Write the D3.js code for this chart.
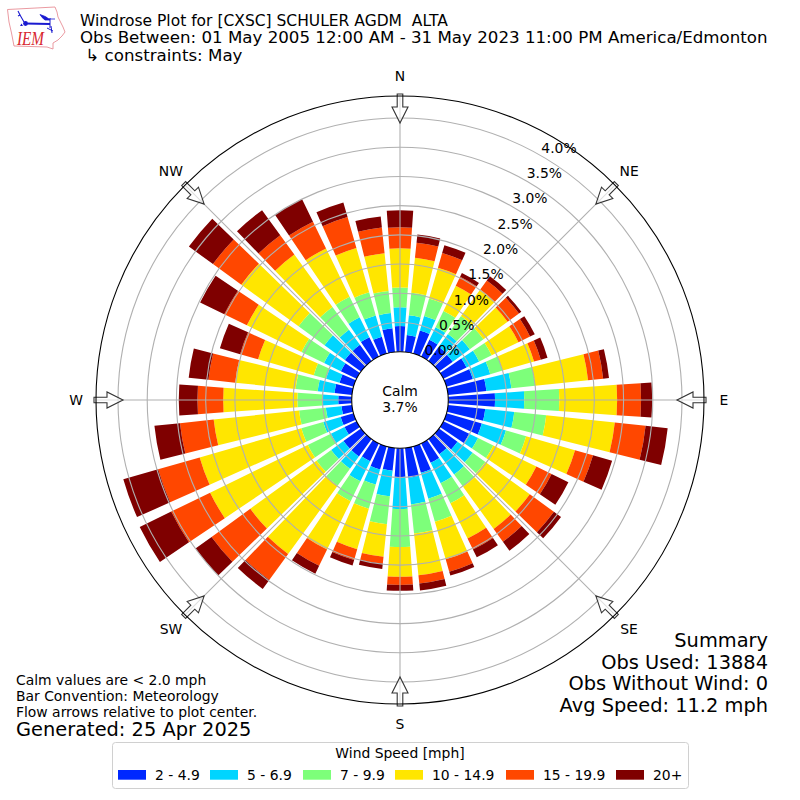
<!DOCTYPE html>
<html><head><meta charset="utf-8">
<script src="https://cdn.jsdelivr.net/npm/d3@7/dist/d3.min.js"></script>
<style>html,body{margin:0;background:#fff}svg{display:block;font-family:"DejaVu Sans",sans-serif}text{white-space:pre}</style>
</head><body><svg id="c" width="800" height="800"></svg>
<script>
const directions = d3.range(0, 360, 10);
const speedBins = ["2 - 4.9","5 - 6.9","7 - 9.9","10 - 14.9","15 - 19.9","20+"];
const binColors = ["#0028ff","#00d5ff","#7dff7a","#ffe600","#ff4700","#7f0000"];
const s2to5   = [.44,.29,.41,.32,.30,.29,.44,.47,.66,.80,.64,.63,.49,.39,.32,.37,.47,.51,.49,.39,.41,.34,.37,.37,.23,.23,.18,.23,.30,.25,.30,.34,.34,.37,.30,.41];
const s5to7   = [.32,.34,.26,.24,.27,.36,.24,.31,.43,.50,.50,.43,.17,.32,.43,.39,.46,.46,.55,.44,.27,.38,.26,.26,.26,.31,.27,.27,.29,.24,.32,.43,.32,.38,.38,.26];
const s7to10  = [.34,.39,.31,.31,.38,.29,.24,.22,.41,.60,.55,.36,.29,.27,.26,.38,.41,.50,.65,.48,.43,.38,.36,.31,.44,.39,.46,.43,.38,.22,.43,.55,.48,.39,.41,.38];
const s10to15 = [.67,.60,.55,.48,.56,.51,.51,.56,.91,.99,1.18,.87,.82,.94,.89,.67,.67,.72,.51,.56,.72,.92,1.44,1.40,1.86,1.81,1.47,1.27,1.04,.99,1.04,1.21,1.11,.92,.79,.65];
const s15to20 = [.36,.26,.26,.17,.19,.24,.22,.12,.26,.41,.53,.32,.29,.51,.27,.21,.22,.14,.14,.12,.19,.31,.55,.82,.74,.74,.58,.44,.46,.32,.43,.60,.41,.51,.55,.44];
const s20plus = [.29,.14,.14,.07,.09,.05,.09,.12,.10,.19,.38,.34,.32,.15,.19,.15,.07,.12,.10,.09,.10,.15,.19,.34,.60,.62,.44,.32,.34,.36,.46,.51,.53,.43,.26,.19];
const seriesValues = [s2to5,s5to7,s7to10,s10to15,s15to20,s20plus];
const radialTicks = [0,.5,1,1.5,2,2.5,3,3.5,4];
const compass = ["N","NE","E","SE","S","SW","W","NW"];
const titleLines = ["Windrose Plot for [CXSC] SCHULER AGDM  ALTA","Obs Between: 01 May 2005 12:00 AM - 31 May 2023 11:00 PM America/Edmonton"," \u21b3 constraints: May"];
const summaryLines = ["Summary","Obs Used: 13884","Obs Without Wind: 0","Avg Speed: 11.2 mph"];
const noteLines = ["Calm values are < 2.0 mph","Bar Convention: Meteorology","Flow arrows relative to plot center."];

const svg = d3.select("#c");
const cx = 400, cy = 400, outerR = 304, innerR = 48.3;
const r = d3.scaleLinear().domain([0,4.0]).range([innerR,282]);
const rad = d3.scaleLinear().domain([0,360]).range([0,2*Math.PI]);
const barWidth = 8;

// Logo
const logo = svg.append("g");
logo.append("path").attr("d","M7.5 9.5 L55 7 L57 12 L58 17 L63 27 L65 32 L62 36 L58 40 L53 43 L53 49 L47 47 L14 46 L11.5 33 L9 22 Z")
  .attr("fill","#fff").attr("stroke","#e88f96").attr("stroke-width",0.9);
logo.append("path").attr("d","M25 23.5 L50 24").attr("stroke","#1a1ad0").attr("stroke-width",2.2).attr("fill","none");
logo.append("path").attr("d","M18 11 L20 15 L18 16 M20 15 L24 22").attr("stroke","#1a1ad0").attr("stroke-width",1.1).attr("fill","none");
logo.append("path").attr("d","M40 14.5 Q46 16 50 20 L45 20 Q42 18 40 14.5 Z M46 19 L55 19").attr("fill","#1a1ad0").attr("stroke","#1a1ad0").attr("stroke-width",0.8);
logo.append("circle").attr("cx",25.5).attr("cy",23.5).attr("r",2.4).attr("fill","#1a1ad0");
logo.append("path").attr("d","M50 18 L50 28 M47 28 L53 31 M51 26 L52 33").attr("stroke","#1a1ad0").attr("stroke-width",1).attr("fill","none");
logo.append("path").attr("d","M20 26 l1.5 -2.5 l1.5 2.5 Z").attr("fill","#1a1ad0");
logo.append("text").attr("x",17).attr("y",44.5).attr("font-family","'Liberation Serif',serif").attr("font-style","italic")
  .attr("font-size",18).attr("textLength",27).attr("lengthAdjust","spacingAndGlyphs").attr("fill","#d8262e").text("IEM");

// Titles
svg.append("g").selectAll("text").data(titleLines).join("text")
  .attr("x",80).attr("y",(d,i)=>[26,43,61][i]).attr("font-size",(d,i)=>[15.5,16.67,16.67][i]).attr("fill","#000").text(d=>d);

// Outer circle background
const plot = svg.append("g").attr("transform",`translate(${cx},${cy})`);
plot.append("circle").attr("r",outerR).attr("fill","#fff").attr("stroke","none");

// Bars
const rows = directions.map((dir,i)=>{const o={dir};speedBins.forEach((b,j)=>o[b]=seriesValues[j][i]);return o;});
const stacked = d3.stack().keys(speedBins)(rows);
const arc = d3.arc();
plot.append("g").selectAll("g").data(stacked).join("g").attr("fill",(d,i)=>binColors[i])
  .selectAll("path").data(d=>d).join("path")
  .attr("d",d=>arc({innerRadius:r(d[0]),outerRadius:r(d[1]),
      startAngle:rad(d.data.dir-barWidth/2),endAngle:rad(d.data.dir+barWidth/2)}));

// Grid
const grid = plot.append("g").attr("fill","none").attr("stroke","#b0b0b0").attr("stroke-width",1.1);
grid.selectAll("circle").data(radialTicks.slice(1)).join("circle").attr("r",d=>r(d));
grid.selectAll("line").data(compass).join("line")
  .attr("x1",(d,i)=>innerR*Math.sin(rad(i*45))).attr("y1",(d,i)=>-innerR*Math.cos(rad(i*45)))
  .attr("x2",(d,i)=>outerR*Math.sin(rad(i*45))).attr("y2",(d,i)=>-outerR*Math.cos(rad(i*45)));

// Flow arrows
plot.append("g").selectAll("path").data(compass).join("path")
  .attr("transform",(d,i)=>`rotate(${i*45})`)
  .attr("d","M-2.8 -306 L2.8 -306 L2.8 -293 L8 -293 L0 -277 L-8 -293 L-2.8 -293 Z")
  .attr("fill","#fff").attr("fill-opacity",0.6).attr("stroke","#333").attr("stroke-width",1.1);

// Frame + calm hole
plot.append("circle").attr("r",outerR).attr("fill","none").attr("stroke","#000").attr("stroke-width",1.1);
plot.append("circle").attr("r",innerR).attr("fill","#fff").attr("stroke","#000").attr("stroke-width",1.1);
plot.append("text").attr("y",-4).attr("text-anchor","middle").attr("font-size",13.9).text("Calm");
plot.append("text").attr("y",12).attr("text-anchor","middle").attr("font-size",13.9).text("3.7%");

// Radial tick labels
plot.append("g").selectAll("text").data(radialTicks).join("text")
  .attr("x",d=>r(d)*Math.sin(rad(30))+18).attr("y",d=>-r(d)*Math.cos(rad(30))-8+5)
  .attr("text-anchor","middle").attr("font-size",13.9).attr("fill","#000").text(d=>d.toFixed(1)+"%");

// Compass labels
plot.append("g").selectAll("text").data(compass).join("text")
  .attr("x",(d,i)=>324*Math.sin(rad(i*45))).attr("y",(d,i)=>-324*Math.cos(rad(i*45))+5)
  .attr("text-anchor","middle").attr("font-size",13.9).text(d=>d);

// Summary
svg.append("g").selectAll("text").data(summaryLines).join("text")
  .attr("x",768).attr("y",(d,i)=>647+i*21.7).attr("text-anchor","end").attr("font-size",19.4).text(d=>d);

// Notes
svg.append("g").selectAll("text").data(noteLines).join("text")
  .attr("x",16).attr("y",(d,i)=>685+i*16).attr("font-size",13.9).text(d=>d);
svg.append("text").attr("x",16).attr("y",736).attr("font-size",19.4).text("Generated: 25 Apr 2025");

// Legend
const legend = svg.append("g");
legend.append("rect").attr("x",112.5).attr("y",742.5).attr("width",576).attr("height",46).attr("rx",3)
  .attr("fill","#fff").attr("stroke","#d0d0d0").attr("stroke-width",1);
legend.append("text").attr("x",400).attr("y",758).attr("text-anchor","middle").attr("font-size",13.9).text("Wind Speed [mph]");
const patchX = [118,210,303,395,506,616];
speedBins.forEach((b,i)=>{
  legend.append("rect").attr("x",patchX[i]).attr("y",770).attr("width",28).attr("height",9.7).attr("fill",binColors[i]);
  legend.append("text").attr("x",patchX[i]+37).attr("y",779.5).attr("font-size",13.9).text(b);
});
</script></body></html>
